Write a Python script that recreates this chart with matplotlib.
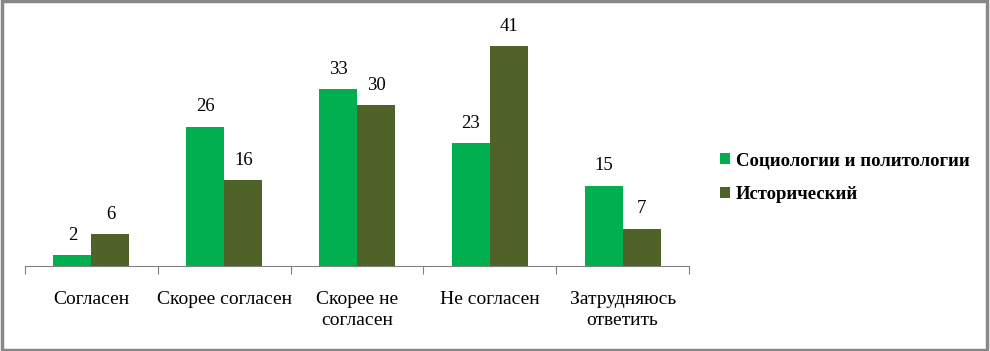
import numpy as np
import matplotlib
matplotlib.use("Agg")
from matplotlib import pyplot as plt
from matplotlib.patches import Rectangle

categories = ["Согласен", "Скорее согласен", "Скорее не\nсогласен", "Не согласен", "Затрудняюсь\nответить"]
series_names = ["Социологии и политологии", "Исторический"]
soc_values = [2, 26, 33, 23, 15]
hist_values = [6, 16, 30, 41, 7]
colors = ["#00B050", "#4F6228"]

plt.rcParams['font.family'] = ['Liberation Serif', 'DejaVu Serif']
serif = ['Liberation Serif', 'DejaVu Serif']

fig = plt.figure(figsize=(9.9, 3.51), dpi=100)
ax = fig.add_axes([0.0253, 0.242, 0.6707, 0.687])

x = np.arange(len(categories))
w = 0.286
b1 = ax.bar(x - w / 2, soc_values, w, color=colors[0], label=series_names[0])
b2 = ax.bar(x + w / 2, hist_values, w, color=colors[1], label=series_names[1])
for bars in (b1, b2):
    for r in bars:
        ax.text(r.get_x() + r.get_width() / 2, r.get_height() + 2.1, f"{int(r.get_height())}",
                ha="center", va="bottom", fontsize=13.5, family=serif)

ax.set_xlim(-0.5, len(categories) - 0.5)
ax.set_ylim(0, 45)
ax.set_yticks([])
for s in ["top", "right", "left"]:
    ax.spines[s].set_visible(False)
ax.spines["bottom"].set_color("#808080")
ax.set_xticks(np.arange(len(categories) + 1) - 0.5)
ax.set_xticklabels([])
ax.tick_params(axis="x", length=6, color="#808080", direction="out")
ax.set_xticks(x, minor=True)
ax.set_xticklabels(categories, minor=True, fontsize=14, linespacing=1.3, family=serif)
ax.tick_params(axis="x", which="minor", length=0, pad=18)

leg = fig.legend(handles=[b1, b2], loc="upper left", bbox_to_anchor=(0.71, 0.615),
                 frameon=False, prop={"weight": "bold", "size": 13.5, "family": serif},
                 handlelength=0.55, handleheight=0.55, handletextpad=0.3, labelspacing=0.9)

fig.patches.append(Rectangle((0.002, 0.004), 0.995, 0.992, transform=fig.transFigure,
                             fill=False, edgecolor="#888888", linewidth=2.5))

fig.savefig("out.png", dpi=100)
